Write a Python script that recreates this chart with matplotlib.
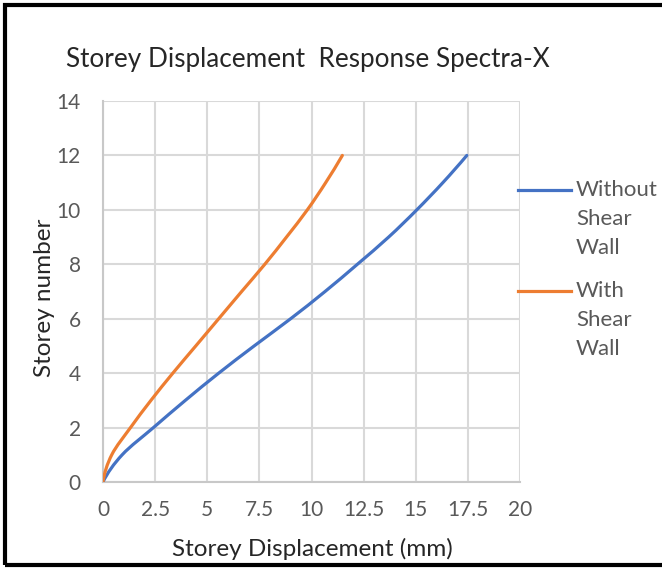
import matplotlib.pyplot as plt
from matplotlib.path import Path
from matplotlib.patches import PathPatch, Rectangle
from matplotlib.lines import Line2D
import numpy as np

storeys = [0, 1, 2, 3, 4, 5, 6, 7, 8, 9, 10, 11, 12]
without_wall = [0, 0.92, 2.42, 3.95, 5.55, 7.25, 9.0, 10.65, 12.2, 13.7, 15.05, 16.3, 17.45]
with_wall = [0, 0.42, 1.32, 2.3, 3.35, 4.45, 5.55, 6.65, 7.76, 8.8, 9.8, 10.68, 11.48]
labels = ["Without\nShear\nWall", "With\nShear\nWall"]
colors = ["#4472C4", "#ED7D31"]
x_ticks = [0, 2.5, 5, 7.5, 10, 12.5, 15, 17.5, 20]
x_tick_labels = ["0", "2.5", "5", "7.5", "10", "12.5", "15", "17.5", "20"]
y_ticks = [0, 2, 4, 6, 8, 10, 12, 14]

FONT = "Lato"
TXT = "#595959"
W, H = 662, 569


def smooth_path(xs, ys):
    # cubic smoothing through the points (Catmull-Rom, one-sided ends)
    pts = np.column_stack([xs, ys]).astype(float)
    n = len(pts)
    tang = np.zeros_like(pts)
    for i in range(1, n - 1):
        tang[i] = (pts[i + 1] - pts[i - 1]) / 2
    tang[0] = -1.5 * pts[0] + 2 * pts[1] - 0.5 * pts[2]
    tang[-1] = 1.5 * pts[-1] - 2 * pts[-2] + 0.5 * pts[-3]
    verts = [pts[0]]
    codes = [Path.MOVETO]
    for i in range(n - 1):
        verts += [pts[i] + tang[i] / 3, pts[i + 1] - tang[i + 1] / 3, pts[i + 1]]
        codes += [Path.CURVE4] * 3
    return Path(verts, codes)


def main():
    fig = plt.figure(figsize=(W / 100, H / 100), dpi=100)
    ax = fig.add_axes([103 / W, 1 - 482 / H, 417 / W, 381 / H])

    for xs, col in zip([without_wall, with_wall], colors):
        patch = PathPatch(smooth_path(xs, storeys), facecolor="none",
                          edgecolor=col, lw=2.3, capstyle="round", zorder=3)
        ax.add_patch(patch)

    ax.set_xlim(0, 20)
    ax.set_ylim(0, 14)
    ax.set_xticks(x_ticks)
    ax.set_xticklabels(x_tick_labels)
    ax.set_yticks(y_ticks)
    ax.grid(True, color="#d9d9d9", lw=1.5)
    ax.set_axisbelow(True)
    for s in ["top", "right"]:
        ax.spines[s].set_visible(False)
    for s in ["left", "bottom"]:
        ax.spines[s].set_color("#c8c8c8")
        ax.spines[s].set_linewidth(1.5)
    ax.tick_params(axis="y", length=0, pad=16, labelsize=15, labelcolor=TXT)
    ax.tick_params(axis="x", length=0, pad=13, labelsize=15, labelcolor=TXT)
    for lab in ax.get_xticklabels() + ax.get_yticklabels():
        lab.set_fontfamily(FONT)

    fig.text(312 / W, 1 - 549 / H, "Storey Displacement (mm)", ha="center",
             va="center", fontsize=17.5, fontfamily=FONT, color="#262626")
    fig.text(45 / W, 1 - 298 / H, "Storey number", ha="center", va="center",
             rotation=90, fontsize=17.5, fontfamily=FONT, color="#262626")
    fig.text(308 / W, 1 - 60 / H, "Storey Displacement  Response Spectra-X",
             ha="center", va="center", fontsize=18.8, fontfamily=FONT,
             color="#262626")

    # legend on the right
    for i, (lab, col) in enumerate(zip(labels, colors)):
        y0 = 190 + i * 101
        fig.add_artist(Line2D([518 / W, 571 / W], [1 - y0 / H, 1 - y0 / H],
                              color=col, lw=2.3))
        for j, line in enumerate(lab.split("\n")):
            fig.text(576 / W, 1 - (y0 + j * 29) / H, line, ha="left",
                     va="center", fontsize=16, fontfamily=FONT, color=TXT)

    fig.add_artist(Rectangle((5 / W, 1 - 565 / H), 1.0, 560 / H,
                             transform=fig.transFigure, fill=False,
                             edgecolor="black", lw=3))
    fig.savefig("out.png", dpi=100)


if __name__ == "__main__":
    main()
